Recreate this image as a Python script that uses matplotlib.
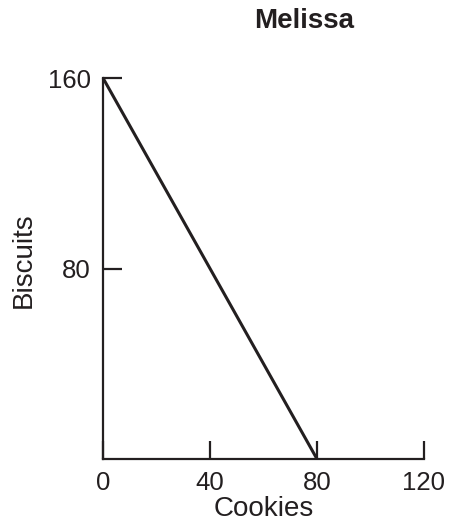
import matplotlib.pyplot as plt

plt.rcParams['font.family'] = ['Liberation Sans', 'DejaVu Sans']

# production possibilities frontier
cookies = [0, 80]
biscuits = [160, 0]
x_ticks = [0, 40, 80, 120]
y_ticks = [80, 160]

ink = '#231f20'

fig = plt.figure(figsize=(4.53, 5.27), dpi=100)
ax = fig.add_axes([103 / 453, 68 / 527, 321 / 453, 381 / 527])

ax.plot(cookies, biscuits, color=ink, lw=2.2, solid_capstyle='butt', clip_on=False)

ax.set_xlim(0, 120)
ax.set_ylim(0, 160)
ax.set_xticks(x_ticks)
ax.set_yticks(y_ticks)

for side in ('top', 'right'):
    ax.spines[side].set_visible(False)
for side in ('left', 'bottom'):
    ax.spines[side].set_color(ink)
    ax.spines[side].set_linewidth(1.6)

ax.tick_params(axis='both', direction='in', color=ink, width=1.6,
               labelsize=18.5, labelcolor=ink, pad=9)
ax.tick_params(axis='y', length=14)
ax.tick_params(axis='x', length=13)

ax.set_xlabel('Cookies', fontsize=20, color=ink, labelpad=0)
ax.set_ylabel('Biscuits', fontsize=20, color=ink)
ax.yaxis.set_label_coords(-0.205, 0.522)

fig.text(304 / 453, 1 - 21 / 527, 'Melissa', fontsize=20, fontweight='bold',
         color=ink, ha='center', va='center')

fig.savefig('out.png', dpi=100)
